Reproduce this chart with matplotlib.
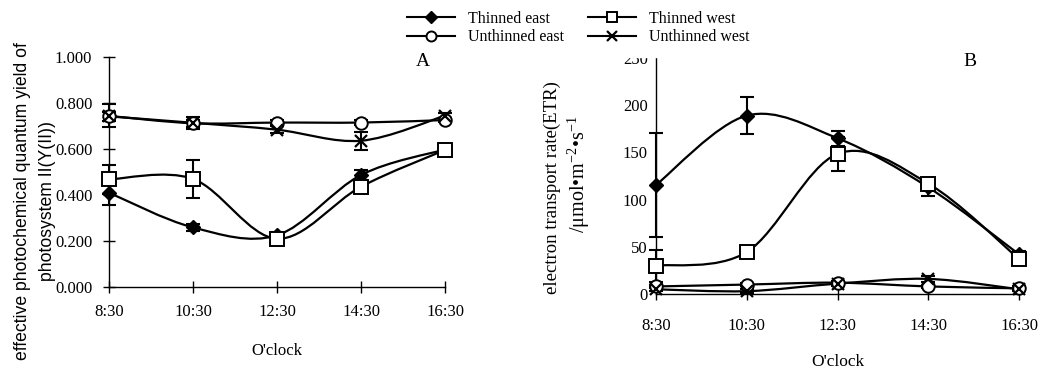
import numpy as np
import matplotlib
matplotlib.use("Agg")
import matplotlib.pyplot as plt
from matplotlib.path import Path
from matplotlib.patches import PathPatch
from matplotlib.lines import Line2D

plt.rcParams["mathtext.fontset"] = "custom"
plt.rcParams["mathtext.rm"] = "Liberation Serif"
plt.rcParams["mathtext.it"] = "Liberation Serif:italic"
plt.rcParams["mathtext.bf"] = "Liberation Serif:bold"

times = ["8:30", "10:30", "12:30", "14:30", "16:30"]
series = ["Thinned east", "Thinned west", "Unthinned east", "Unthinned west"]

# Panel A: Y(II)
yA_thinned_east = [0.410, 0.259, 0.225, 0.487, 0.598]
yA_thinned_west = [0.468, 0.470, 0.210, 0.436, 0.596]
yA_unthinned_east = [0.744, 0.712, 0.715, 0.715, 0.726]
yA_unthinned_west = [0.742, 0.714, 0.684, 0.636, 0.745]
eA_thinned_east = [0.055, 0.015, 0.015, 0.020, 0.015]
eA_thinned_west = [0.062, 0.082, 0.012, 0.020, 0.015]
eA_unthinned_east = [0.050, 0.015, 0.010, 0.010, 0.010]
eA_unthinned_west = [0.020, 0.025, 0.015, 0.040, 0.012]

# Panel B: ETR
yB_thinned_east = [115.6, 189.0, 165.0, 113.0, 42.0]
yB_thinned_west = [30.0, 44.5, 148.5, 117.0, 37.0]
yB_unthinned_east = [8.0, 10.0, 12.0, 8.0, 6.0]
yB_unthinned_west = [5.0, 3.0, 11.0, 16.0, 5.0]
eB_thinned_east = [55.0, 20.0, 8.0, 9.0, 4.0]
eB_thinned_west = [17.0, 4.0, 18.0, 6.0, 4.0]
eB_unthinned_east = [2.0, 2.0, 2.0, 2.0, 2.0]
eB_unthinned_west = [2.0, 2.0, 2.0, 3.0, 2.0]

serif = ["Liberation Serif", "DejaVu Serif"]
sans = ["Liberation Sans", "DejaVu Sans"]

styles = {
    "Thinned east": dict(marker="D", mfc="black", mec="black", ms=7.5),
    "Thinned west": dict(marker="s", mfc="white", mec="black", ms=9.5, mew=1.4),
    "Unthinned east": dict(marker="o", mfc="white", mec="black", ms=9, mew=1.4),
    "Unthinned west": dict(marker="x", mfc="none", mec="black", ms=9, mew=1.6),
}


def smooth_path(x, y):
    x = np.asarray(x, float)
    y = np.asarray(y, float)
    n = len(x)
    verts = [(x[0], y[0])]
    codes = [Path.MOVETO]
    for i in range(n - 1):
        p0 = np.array([x[max(i - 1, 0)], y[max(i - 1, 0)]])
        p1 = np.array([x[i], y[i]])
        p2 = np.array([x[i + 1], y[i + 1]])
        p3 = np.array([x[min(i + 2, n - 1)], y[min(i + 2, n - 1)]])
        c1 = p1 + (p2 - p0) / 6.0
        c2 = p2 - (p3 - p1) / 6.0
        verts += [tuple(c1), tuple(c2), tuple(p2)]
        codes += [Path.CURVE4] * 3
    return Path(verts, codes)


def draw(ax, name, y, e):
    x = np.arange(len(y))
    ax.add_patch(PathPatch(smooth_path(x, y), fc="none", ec="black", lw=1.6, zorder=2))
    ax.errorbar(x, y, yerr=e, fmt="none", ecolor="black", elinewidth=1.5,
                capsize=5, capthick=1.5, zorder=3)
    st = styles[name]
    ax.plot(x, y, ls="none", color="black", zorder=4, **st)


fig = plt.figure(figsize=(10.42, 3.70), dpi=100)
W, H = 1042.0, 370.0

axA = fig.add_axes([0.1046, 0.2243, 0.3225, 0.6216])
axB = fig.add_axes([0.6296, 0.2054, 0.3484, 0.6378])

for name, y, e in zip(series,
                      [yA_thinned_east, yA_thinned_west, yA_unthinned_east, yA_unthinned_west],
                      [eA_thinned_east, eA_thinned_west, eA_unthinned_east, eA_unthinned_west]):
    draw(axA, name, y, e)
for name, y, e in zip(series,
                      [yB_thinned_east, yB_thinned_west, yB_unthinned_east, yB_unthinned_west],
                      [eB_thinned_east, eB_thinned_west, eB_unthinned_east, eB_unthinned_west]):
    draw(axB, name, y, e)

for ax in (axA, axB):
    ax.spines["top"].set_visible(False)
    ax.spines["right"].set_visible(False)
    ax.spines["left"].set_linewidth(1.0)
    ax.spines["bottom"].set_linewidth(1.0)
    ax.set_xlim(0, 4)
    ax.set_xticks(range(len(times)))
    ax.set_xticklabels(times, fontfamily=serif, fontsize=12)
    ax.tick_params(axis="both", direction="inout", length=8, width=1.0, pad=8)
    for art in ax.patches + ax.lines + ax.collections:
        art.set_clip_on(False)

axA.set_ylim(0, 1.0)
axA.set_yticks(np.arange(0, 1.01, 0.2))
axA.set_yticklabels([f"{v:.3f}" for v in np.arange(0, 1.01, 0.2)], fontfamily=serif, fontsize=12)
fig.text(35.0 / W, 1 - 201 / H,
         "effective photochemical quantum yield of\nphotosystem II(Y(II))",
         fontfamily=sans, fontsize=12.7, linespacing=1.65, rotation=90,
         ha="center", va="center", multialignment="center")
axA.set_xlabel("O'clock", fontfamily=serif, fontsize=12, labelpad=17)
fig.text(423 / W, 1 - 62 / H, "A", fontfamily=serif, fontsize=14,
         ha="center", va="center", zorder=10)

axB.set_ylim(0, 250)
axB.set_yticks(np.arange(0, 251, 50))
axB.set_yticklabels([str(v) for v in range(0, 251, 50)], fontfamily=serif, fontsize=12)
axB.tick_params(axis="y", length=0, pad=6)
axB.tick_params(axis="x", pad=13)
fig.text(552 / W, 1 - 187.5 / H, "electron transport rate(ETR)",
         fontfamily=serif, fontsize=13.5, rotation=90, ha="center", va="center")
fig.text(579 / W, 1 - 174 / H, "/\u03bcmol\u2022m$^{-2}$\u2022s$^{-1}$",
         fontfamily=serif, fontsize=14.5, rotation=90, ha="center", va="center")
axB.set_xlabel("O'clock", fontfamily=serif, fontsize=12.5, labelpad=15)
fig.text(970 / W, 1 - 61 / H, "B", fontfamily=serif, fontsize=14,
         ha="center", va="center", zorder=10)

handles = []
for name in ["Thinned east", "Unthinned east", "Thinned west", "Unthinned west"]:
    st = dict(styles[name])
    st["ms"] = st["ms"] * 0.8
    handles.append(Line2D([], [], color="black", lw=1.5, **st))
leg = fig.legend(handles, ["Thinned east", "Unthinned east", "Thinned west", "Unthinned west"],
                 ncol=2, loc="upper center", bbox_to_anchor=(0.555, 1.025), frameon=True,
                 facecolor="white", edgecolor="white", framealpha=1.0, fancybox=False,
                 borderpad=0.75,
                 prop={"family": serif, "size": 11.5}, handlelength=3.0,
                 columnspacing=1.5, labelspacing=0.15, handletextpad=0.8)

fig.savefig("out.png", dpi=100)
